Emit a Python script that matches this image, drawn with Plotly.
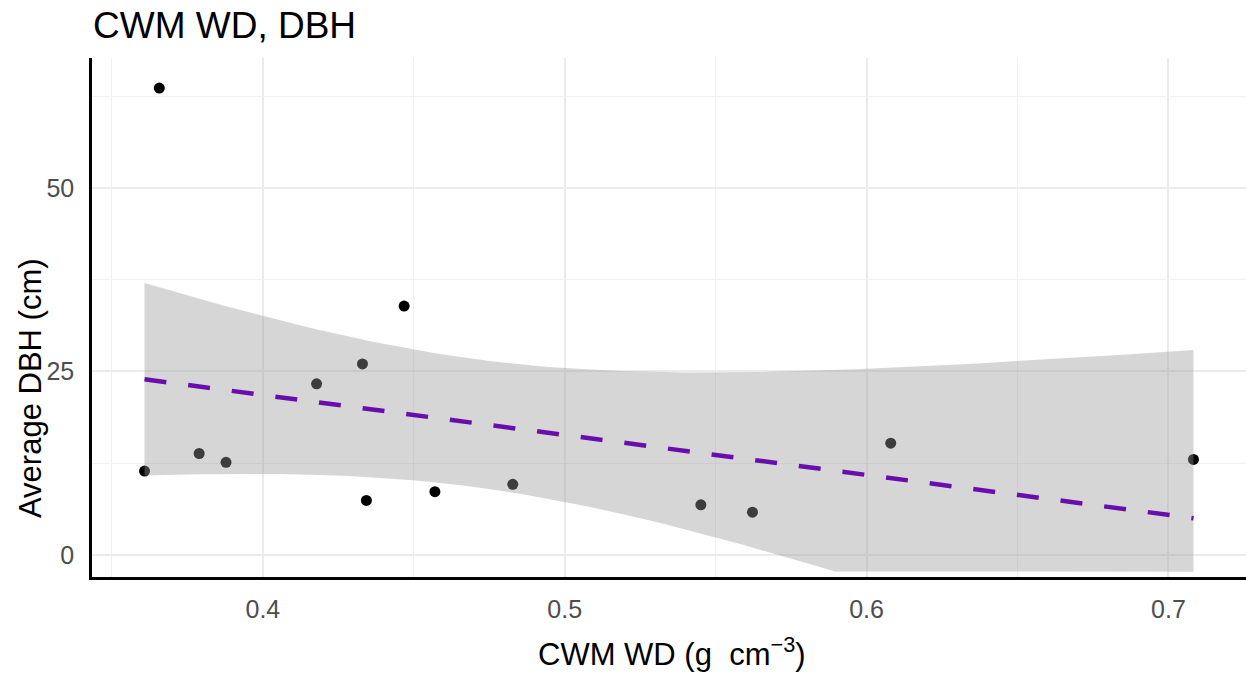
import numpy as np
import plotly.graph_objects as go

# ---- data ----
cwm_wd = [0.3608, 0.3657, 0.3789, 0.3878, 0.4178, 0.4330, 0.4343,
          0.4468, 0.4570, 0.4828, 0.5451, 0.5622, 0.6080, 0.7083]
avg_dbh = [11.4, 63.6, 13.8, 12.6, 23.3, 26.0, 7.4,
           33.9, 8.6, 9.6, 6.8, 5.8, 15.2, 13.0]

x_ticks = [0.4, 0.5, 0.6, 0.7]
x_tick_labels = ["0.4", "0.5", "0.6", "0.7"]
y_ticks = [0, 25, 50]
y_tick_labels = ["0", "25", "50"]

title_text = "CWM WD, DBH"
x_title = "CWM WD (g\u00a0\u00a0cm<sup>\u22123</sup>)"
y_title = "Average DBH (cm)"

band_floor = -2.3          # lower edge of ribbon is squished at the panel bottom
t_975_df12 = 2.178813      # t quantile for 95% CI, n-2 = 12 df

# ---- linear model (geom_smooth(method="lm")) ----
x = np.array(cwm_wd)
y = np.array(avg_dbh)
n = len(x)
xbar, ybar = x.mean(), y.mean()
sxx = ((x - xbar) ** 2).sum()
slope = ((x - xbar) * (y - ybar)).sum() / sxx
intercept = ybar - slope * xbar
resid = y - (intercept + slope * x)
s = np.sqrt((resid ** 2).sum() / (n - 2))
xs = np.linspace(x.min(), x.max(), 80)
fit = intercept + slope * xs
se = s * np.sqrt(1.0 / n + (xs - xbar) ** 2 / sxx)
upper = fit + t_975_df12 * se
lower = np.maximum(fit - t_975_df12 * se, band_floor)

# ---- layout geometry ----
W, H = 1246, 675
ml, mr, mt, mb = 92, 0, 58, 98
pw, ph = W - ml - mr, H - mt - mb

def px_x(px):
    return (px - ml) / pw

def px_y(py):
    return (H - mb - py) / ph

FONT = "Liberation Sans, Arial, sans-serif"

fig = go.Figure()
fig.add_trace(go.Scatter(x=cwm_wd, y=avg_dbh, mode="markers",
                         marker=dict(color="black", size=11),
                         hoverinfo="x+y", showlegend=False))
fig.add_trace(go.Scatter(x=np.concatenate([xs, xs[::-1]]),
                         y=np.concatenate([upper, lower[::-1]]),
                         mode="lines", fill="toself",
                         fillcolor="rgba(153,153,153,0.4)",
                         line=dict(width=0, color="rgba(0,0,0,0)"),
                         hoverinfo="skip", showlegend=False))
fig.add_trace(go.Scatter(x=xs, y=fit, mode="lines",
                         line=dict(color="#6A0DAD", width=4.5, dash="22px,22px"),
                         hoverinfo="skip", showlegend=False))

fig.update_layout(
    width=W, height=H,
    margin=dict(l=ml, r=mr, t=mt, b=mb),
    paper_bgcolor="white", plot_bgcolor="white",
    font=dict(family=FONT, color="black"),
    title=dict(text=title_text, x=px_x(93), xref="paper", xanchor="left",
               yref="container", y=1 - 25 / H, yanchor="middle",
               font=dict(size=37, color="black", family=FONT)),
    xaxis=dict(range=[0.3434, 0.7257], tickvals=x_ticks, ticktext=x_tick_labels,
               showgrid=True, gridcolor="#EBEBEB", gridwidth=1.6,
               minor=dict(dtick=0.05, tick0=0, showgrid=True, gridcolor="#F0F0F0", gridwidth=1.2),
               zeroline=False, showline=True, linecolor="black", linewidth=2.5,
               ticks="outside", ticklen=8, tickcolor="rgba(0,0,0,0)",
               tickfont=dict(size=25, color="#4D4D4D", family=FONT)),
    yaxis=dict(range=[-3.03, 67.7], tickvals=y_ticks, ticktext=y_tick_labels,
               showgrid=True, gridcolor="#EBEBEB", gridwidth=1.6,
               minor=dict(dtick=12.5, tick0=0, showgrid=True, gridcolor="#F0F0F0", gridwidth=1.2),
               zeroline=False, showline=True, linecolor="black", linewidth=2.5,
               ticks="outside", ticklen=10, tickcolor="rgba(0,0,0,0)",
               tickfont=dict(size=25, color="#4D4D4D", family=FONT)),
    annotations=[
        dict(text=x_title, xref="paper", yref="paper", x=px_x(672), y=px_y(652),
             xanchor="center", yanchor="middle", showarrow=False,
             font=dict(size=31, color="black", family=FONT)),
        dict(text=y_title, xref="paper", yref="paper", x=px_x(30), y=px_y(388),
             xanchor="center", yanchor="middle", textangle=-90, showarrow=False,
             font=dict(size=31, color="black", family=FONT)),
    ],
)

fig.write_html("out.html")
